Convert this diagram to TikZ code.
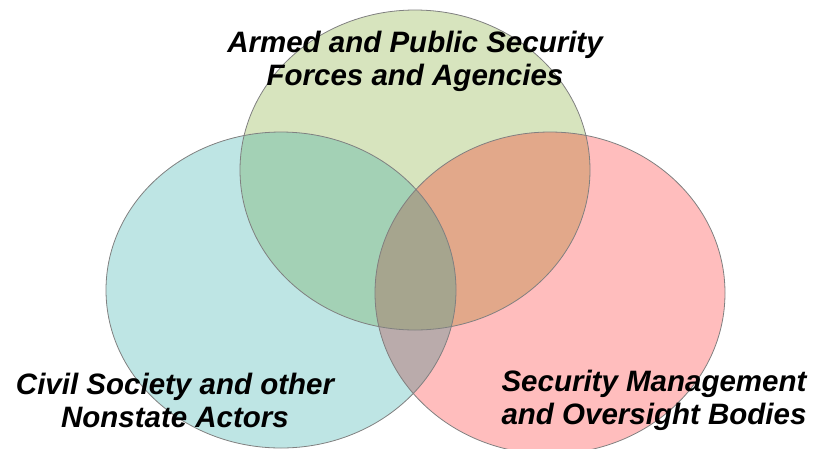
\documentclass[tikz,border=0pt]{standalone}
\usepackage{fontspec}
\setmainfont{Liberation Sans}
\usepackage{tikz}
\definecolor{forcesfill}{RGB}{215,228,190}
\definecolor{civilfill}{RGB}{190,229,228}
\definecolor{oversightfill}{RGB}{255,189,189}
\definecolor{forcescivil}{RGB}{163,209,181}
\definecolor{forcesoversight}{RGB}{226,168,138}
\definecolor{civiloversight}{RGB}{186,171,171}
\definecolor{allthree}{RGB}{166,165,142}
\definecolor{setline}{RGB}{128,128,128}
\newcommand{\forcesset}{(415,-170) ellipse [x radius=175, y radius=160]}
\newcommand{\civilset}{(281,-290) ellipse [x radius=175, y radius=158]}
\newcommand{\oversightset}{(550,-293) ellipse [x radius=175, y radius=161]}
\tikzstyle{setedge}=[draw=setline, line width=0.8pt]
\tikzstyle{setlabel}=[inner sep=0, font=\fontsize{29.5}{33}\selectfont\bfseries\itshape]
\tikzstyle{venn}=[x=1pt, y=1pt,
                  % Reference frame of the picture.
                  execute at begin picture={\useasboundingbox (0,0) rectangle (813,-448);}]

\begin{document}
\begin{tikzpicture}[venn]
        % Single sets.
        \fill[forcesfill]    \forcesset;
        \fill[civilfill]     \civilset;
        \fill[oversightfill] \oversightset;
        % Pairwise overlaps.
        \begin{scope}
            \clip \forcesset;
            \fill[forcescivil] \civilset;
            \fill[forcesoversight] \oversightset;
        \end{scope}
        \begin{scope}
            \clip \civilset;
            \fill[civiloversight] \oversightset;
            \clip \oversightset;
            \fill[allthree] \forcesset;
        \end{scope}
        % Outlines.
        \draw[setedge] \forcesset;
        \draw[setedge] \civilset;
        \draw[setedge] \oversightset;
        % Labels.
        \node[setlabel, align=center] (forces)    at (415,-61)  {Armed and Public Security\\Forces and Agencies};
        \node[setlabel, align=center] (civil)     at (175,-400) {Civil Society and other\\Nonstate Actors};
        \node[setlabel, align=left]   (oversight) at (654,-400) {Security Management\\and Oversight Bodies};
    \end{tikzpicture}
\end{document}
